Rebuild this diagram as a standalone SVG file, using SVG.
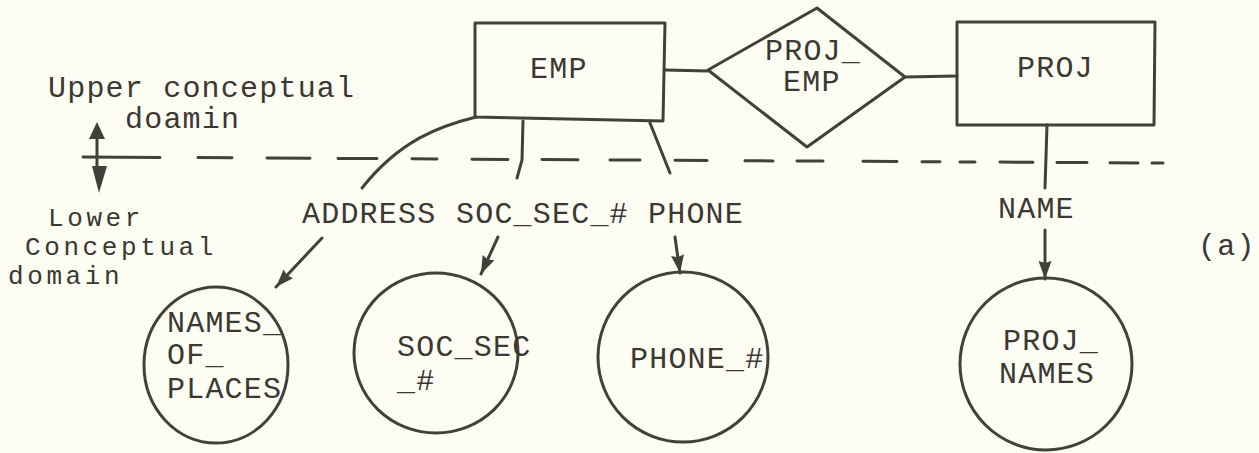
<svg xmlns="http://www.w3.org/2000/svg" width="1259" height="453" viewBox="0 0 1259 453">
  <defs>
    <style>
      .ink { fill: none; stroke: #42403a; stroke-width: 3; stroke-linecap: round; stroke-linejoin: round; }
      .lbl { font-family: "Liberation Mono", "DejaVu Sans Mono", monospace; font-size: 30px; letter-spacing: 1.2px; fill: #3b3833; }
      .side { font-size: 26px; letter-spacing: 3.6px; }
      .solid { fill: #42403a; stroke: none; }
    </style>
    <marker id="arrow" viewBox="0 0 18 14" refX="18" refY="7" markerWidth="18" markerHeight="14" markerUnits="userSpaceOnUse" orient="auto">
      <path d="M0,0.5 L18,7 L0,13.5 L2,7 z" fill="#42403a"/>
    </marker>
  </defs>

  <rect x="0" y="0" width="1259" height="453" fill="#fdfdf3"/>

  <!-- boundary between the conceptual domains -->
  <g id="domain-boundary">
    <path class="ink" stroke-width="2.5" d="M83,157 L160,157.4 M198,157.6 L232,157.8 M267,158 L310,158.3 M338,158.4 L377,158.6 M412,158.8 L437,159 M472,159.2 L508,159.4 M542,159.6 L578,159.8 M610,160 L640,160.1 M675,160.3 L707,160.5 M745,160.7 L773,160.9 M797,161 L823,161.1 M863,161.3 L897,161.5 M922,161.7 L940,161.8 M960,161.9 L975,162 M1000,162.1 L1033,162.3 M1057,162.4 L1087,162.6 M1110,162.7 L1138,162.9 M1152,163 L1163,163"/>
    <path class="ink" d="M97,137 L97,168"/>
    <polygon class="solid" points="97,122 89,139 105,139"/>
    <polygon class="solid" points="99,193 92,166 107,166"/>
    <text class="lbl" x="48" y="97">Upper conceptual</text>
    <text class="lbl" x="125" y="128">doamin</text>
    <text class="lbl side" x="48" y="226">Lower</text>
    <text class="lbl side" x="25" y="255">Conceptual</text>
    <text class="lbl side" x="8" y="284">domain</text>
  </g>

  <g id="connectors">
    <path class="ink" d="M665,70 L708,71"/>
    <path class="ink" d="M905,77 L957,76"/>
    <path class="ink" d="M476,117 C440,126 400,140 362,188"/>
    <path class="ink" d="M523,121 L522,160 L517,178"/>
    <path class="ink" d="M650,123 L670,173"/>
    <path class="ink" d="M1047,125 L1045,188"/>
    <path class="ink" marker-end="url(#arrow)" d="M322,238 L276,287"/>
    <path class="ink" marker-end="url(#arrow)" d="M498,237 L481,274"/>
    <path class="ink" marker-end="url(#arrow)" d="M675,237 L680,273"/>
    <path class="ink" marker-end="url(#arrow)" d="M1045,230 L1045,279"/>
  </g>

  <g id="emp">
    <path class="ink" d="M475,23 L665,23 L663,121 L475,117 Z"/>
    <text class="lbl" x="530" y="78">EMP</text>
  </g>

  <g id="proj-emp">
    <path class="ink" d="M708,70 L817,8 L905,77 L807,147 Z"/>
    <text class="lbl" x="765" y="60">PROJ_</text>
    <text class="lbl" x="783" y="91">EMP</text>
  </g>

  <g id="proj">
    <path class="ink" d="M957,22 L1155,22 L1154,125 L957,125 Z"/>
    <text class="lbl" x="1017" y="77">PROJ</text>
  </g>

  <g id="attr-address">
    <text class="lbl" x="302" y="223">ADDRESS</text>
  </g>
  <g id="attr-soc-sec">
    <text class="lbl" x="456" y="223">SOC_SEC_#</text>
  </g>
  <g id="attr-phone">
    <text class="lbl" x="648" y="223">PHONE</text>
  </g>
  <g id="attr-name">
    <text class="lbl" x="998" y="218">NAME</text>
  </g>

  <g id="names-of-places">
    <ellipse class="ink" cx="216" cy="365" rx="72" ry="78"/>
    <text class="lbl" x="167" y="332">NAMES_</text>
    <text class="lbl" x="167" y="364">OF_</text>
    <text class="lbl" x="167" y="398">PLACES</text>
  </g>

  <g id="soc-sec-domain">
    <ellipse class="ink" cx="436" cy="353" rx="82" ry="80"/>
    <text class="lbl" x="397" y="356">SOC_SEC</text>
    <text class="lbl" x="397" y="390">_#</text>
  </g>

  <g id="phone-domain">
    <ellipse class="ink" cx="683" cy="357" rx="85" ry="85"/>
    <text class="lbl" x="630" y="368">PHONE_#</text>
  </g>

  <g id="proj-names">
    <ellipse class="ink" cx="1046" cy="364" rx="86" ry="86"/>
    <text class="lbl" x="1003" y="350">PROJ_</text>
    <text class="lbl" x="999" y="383">NAMES</text>
  </g>

  <text class="lbl" x="1198" y="255">(a)</text>
</svg>
